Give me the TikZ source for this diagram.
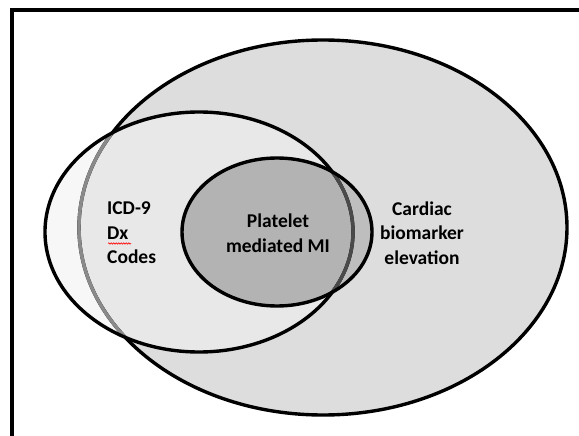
\documentclass[tikz,border=0pt]{standalone}
\usepackage{fontspec}
\setmainfont{Carlito}
\usetikzlibrary{decorations.pathmorphing}
\definecolor{bigonly}{HTML}{DDDDDD}
\definecolor{codesonly}{HTML}{F7F7F7}
\definecolor{bothfill}{HTML}{E8E8E8}
\definecolor{innerout}{HTML}{BEBEBE}
\definecolor{innerin}{HTML}{B3B3B3}
\definecolor{hiddenline}{HTML}{8A8A8A}
\definecolor{hiddendark}{HTML}{4A4A4A}
\begin{document}
\begin{tikzpicture}[x=1pt,y=-1pt,
        vennlabel/.style={font=\bfseries\fontsize{19.5}{24.5}\selectfont, inner sep=0pt},
        oval/.style={line width=3.4pt}]
        \useasboundingbox (0,0) rectangle (579,436);
        \clip (0,0) rectangle (579,436);
        \draw[line width=3.2pt] (12,10) rectangle (640,500);
        % fills
        \fill[bigonly] (323,227.5) ellipse [x radius=244, y radius=187.5];
        \fill[codesonly] (199,232) ellipse [x radius=154, y radius=120];
        \begin{scope}
        \clip (199,232) ellipse [x radius=154, y radius=120];
        \fill[bothfill] (323,227.5) ellipse [x radius=244, y radius=187.5];
        \end{scope}
        \fill[innerout] (277,232) ellipse [x radius=95, y radius=74];
        \begin{scope}
        \clip (199,232) ellipse [x radius=154, y radius=120];
        \fill[innerin] (277,232) ellipse [x radius=95, y radius=74];
        \end{scope}
        % outlines
        \draw[oval] (323,227.5) ellipse [x radius=244, y radius=187.5];
        \begin{scope}
        \clip (199,232) ellipse [x radius=154, y radius=120];
        \draw[oval, hiddenline] (323,227.5) ellipse [x radius=244, y radius=187.5];
        \end{scope}
        \draw[oval] (199,232) ellipse [x radius=154, y radius=120];
        \begin{scope}
        \clip (277,232) ellipse [x radius=95, y radius=74];
        \draw[oval, hiddendark] (199,232) ellipse [x radius=154, y radius=120];
        \end{scope}
        \draw[oval] (277,232) ellipse [x radius=95, y radius=74];
        % labels
        \node[vennlabel, align=left, anchor=west] (codes) at (107,233) {ICD-9\\Dx\\Codes};
        \node[vennlabel, align=center] (platelet) at (278,233) {Platelet\\mediated MI};
        \node[vennlabel, align=center] (cardiac) at (422,233) {Cardiac\\biomarker\\elevation};
        \draw[red, line width=0.6pt, decorate, decoration={snake, amplitude=0.7pt, segment length=2.5pt}]
        (108,243.5) -- (131,243.5);
\end{tikzpicture}
\end{document}
